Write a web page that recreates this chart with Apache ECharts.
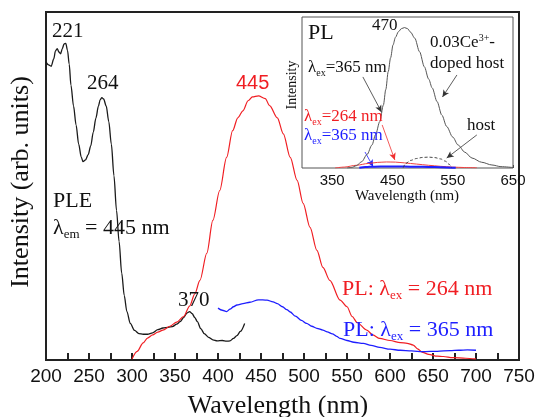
<!DOCTYPE html>
<html><head><meta charset="utf-8">
<script src="https://cdn.jsdelivr.net/npm/echarts@6/dist/echarts.min.js"></script>
<style>html,body{margin:0;padding:0;background:#fff}#c{width:538px;height:417px}</style>
</head><body><div id="c"></div>
<script>
// ---- main panel data (wavelength nm, intensity arb. units 0-100) ----
const pleWavelength = [200,203,206,209,211,213,215,217,219,221,223,225,227,229,232,235,238,241,243,246,249,252,255,258,261,263,265,267,270,273,276,279,282,285,288,291,294,298,303,308,313,318,324,330,336,342,347,352,356,360,364,367,370,373,376,380,384,389,394,399,405,410,414,418,422,426,431];
const pleIntensity  = [85.6,84.8,84.4,86.5,88.8,89.5,88.5,88.0,89.5,90.8,91.0,89,85,79,73,67.5,62,58.3,57.0,57.5,59,61.5,65.5,69.5,73,74.8,75.4,75,73,68.5,62,53,43,34,25,18.5,14,10.5,8.5,7.6,7.4,7.4,7.8,8.7,9.2,9.4,9.6,10.3,11,12.2,13.5,13.9,13.3,12.2,11,9,7.6,6.5,5.8,5.5,5.6,5.4,5.5,6.2,7.0,8.2,10.5];

const pl264Wavelength = [300,306,313,318,324,330,336,344,352,360,367,373,379,387,394,402,410,417,423,429,435,440,447,455,460,469,476,484,492,499,507,515,522,530,542,550,556,562,573,580,588,600,612,620,627,632,638,645,655,662,673,688,700];
const pl264Intensity  = [0.3,2.5,4.9,6.3,7.2,8.0,8.6,9.7,10.9,12.5,15.5,19,22.9,30.7,40.1,48.7,58.2,65.9,69.6,71.6,74.5,75.6,75.9,75.1,73.1,69.6,65.0,58.2,51.6,45.0,38.1,31.5,26.6,22.9,17.2,15.3,12.5,10.7,8.6,7.2,6.2,5.6,5.0,4.8,4.3,3.2,2.2,1.6,1.1,1.0,0.7,0.5,0.3];

const pl365Wavelength = [400,405,410,414,418,422,429,437,447,457,464,469,475,480,484,490,497,503,509,515,522,527,533,538,542,550,558,569,578,588,600,612,625,638,655,670,680,690,700];
const pl365Intensity  = [14.9,14.3,13.9,14.6,15.3,15.8,16.2,16.6,17.3,17.2,16.7,16.2,15.3,14.5,13.8,12.6,11.4,10.5,9.7,9.1,8.6,8.1,7.5,6.8,6.2,5.6,5.1,4.8,4.2,3.6,3.1,2.8,2.6,2.4,2.5,2.7,2.8,2.9,2.8];

// ---- inset data (wavelength nm, intensity 0-100) ----
const insetDopedWavelength = [375,382,390,399,408,416,422,429,435,439,443,447,451,455,460,465,470,475,480,487,495,503,510,516,524,532,540,550,559,570,582,598,615,630,650];
const insetDopedIntensity  = [0,0.3,1.5,4.2,9,15.2,22,30.7,41.7,52,63.8,73,81.5,86.5,90.3,92.3,93,92.3,90,86,77,67,59,53,44,35,27.5,20.5,15.2,10.5,6.6,3.8,2.0,0.9,0.3];
const insetRedWavelength = [355,370,390,410,425,440,455,470,490,510,530,550,570,590];
const insetRedIntensity  = [0,0.6,1.8,3.0,3.7,4.0,3.9,3.4,2.6,1.8,1.1,0.6,0.3,0.1];
const insetBlueWavelength = [395,405,420,440,460,480,500,520,540,555];
const insetBlueIntensity  = [0.2,0.6,0.9,1.0,1.0,0.9,0.8,0.6,0.4,0.2];
const insetHostWavelength = [468,472,480,490,500,510,520,530,538,544,548];
const insetHostIntensity  = [0.3,3,5,6.3,7,7.2,6.9,6,4.5,2.5,0.3];

// ---- tick labels ----
const mainTickLabels = [200,250,300,350,400,450,500,550,600,650,700,750];
const insetTickLabels = [350,450,550,650];

const zip = (a, b) => a.map((v, i) => [v, b[i]]);
const SERIF = "'Liberation Serif','DejaVu Serif',serif";
const SANS = "'Liberation Sans','DejaVu Sans',sans-serif";
const RED = '#f01e23', BLUE = '#1e1eff', BLACK = '#1a1a1a';

function lineSeries(data, color, width, xi, extra) {
  return Object.assign({
    type: 'line', data: data, xAxisIndex: xi, yAxisIndex: xi,
    showSymbol: false, symbol: 'none', smooth: 0.3, smoothMonotone: 'x',
    lineStyle: { color: color, width: width }, animation: false, silent: true,
    emphasis: { disabled: true }, z: 3
  }, extra || {});
}

function txt(x, y, text, rich, opts) {
  return Object.assign({
    type: 'text', x: x, y: y, z: 100, silent: true,
    style: { text: text, rich: rich, align: 'left', textAlign: 'left', verticalAlign: 'middle', textVerticalAlign: 'middle' }
  }, opts || {});
}
function richSet(size, color, family, subSize, lh) {
  return {
    m: { fontSize: size, fontFamily: family || SERIF, fill: color, color: color, lineHeight: lh || Math.round(size * 1.2) },
    s: { fontSize: subSize, fontFamily: family || SERIF, fill: color, color: color, lineHeight: Math.round(size * 0.45), verticalAlign: 'bottom' },
    p: { fontSize: subSize, fontFamily: family || SERIF, fill: color, color: color, lineHeight: Math.round(size * 0.6), verticalAlign: 'top' }
  };
}

const chart = echarts.init(document.getElementById('c'), null, { renderer: 'canvas' });
chart.setOption({
  animation: false,
  backgroundColor: '#fff',
  grid: [
    { left: 46, top: 12, width: 473, height: 348, show: true, borderColor: '#222', borderWidth: 2, backgroundColor: 'transparent', containLabel: false },
    { left: 302, top: 17, width: 211, height: 151, show: true, borderColor: '#555', borderWidth: 1, backgroundColor: '#fff', containLabel: false, z: 4 }
  ],
  xAxis: [
    { type: 'value', gridIndex: 0, min: 200, max: 750, interval: 25,
      axisLine: { show: false }, splitLine: { show: false },
      axisTick: { show: true, inside: true, length: 7, lineStyle: { color: '#222', width: 2 } },
      axisLabel: { show: true, margin: 7, fontSize: 19, fontFamily: SANS, color: '#111', showMinLabel: true, showMaxLabel: true,
        formatter: v => mainTickLabels.includes(v) ? String(v) : '' } },
    { type: 'value', gridIndex: 1, min: 300, max: 650, interval: 50,
      axisLine: { show: false }, splitLine: { show: false },
      axisTick: { show: true, inside: true, length: 3, lineStyle: { color: '#444', width: 1 } },
      axisLabel: { show: true, margin: 5, fontSize: 15, fontFamily: SANS, color: '#111', showMinLabel: true, showMaxLabel: true,
        formatter: v => insetTickLabels.includes(v) ? String(v) : '' } }
  ],
  yAxis: [
    { type: 'value', gridIndex: 0, min: 0, max: 100, show: false },
    { type: 'value', gridIndex: 1, min: 0, max: 100, show: false }
  ],
  series: [
    lineSeries(zip(pleWavelength, pleIntensity), BLACK, 1.3, 0),
    lineSeries(zip(pl264Wavelength, pl264Intensity), RED, 1.2, 0),
    lineSeries(zip(pl365Wavelength, pl365Intensity), BLUE, 1.3, 0),
    lineSeries(zip(insetRedWavelength, insetRedIntensity), '#f04040', 1, 1, { z: 6 }),
    lineSeries(zip(insetBlueWavelength, insetBlueIntensity), '#2020ff', 2, 1, { z: 6 }),
    lineSeries(zip(insetHostWavelength, insetHostIntensity), '#333', 0.9, 1, { z: 6, lineStyle: { color: '#333', width: 0.9, type: [3, 2] } }),
    lineSeries(zip(insetDopedWavelength, insetDopedIntensity), '#555', 1, 1, { z: 6,
      markLine: {
        silent: true, animation: false, symbol: ['none', 'arrow'], symbolSize: [5, 7],
        label: { show: false }, emphasis: { disabled: true },
        lineStyle: { width: 0.8, type: 'solid', color: '#333' },
        data: [
          [{ coord: [401, 60.3], lineStyle: { color: '#333', width: 0.8, type: 'solid' } }, { coord: [432, 37] }],
          [{ coord: [557, 61.6], lineStyle: { color: '#333', width: 0.8, type: 'solid' } }, { coord: [533, 47] }],
          [{ coord: [433, 28.5], lineStyle: { color: '#f03030', width: 0.8, type: 'solid' } }, { coord: [454, 5.3] }],
          [{ coord: [404.5, 10.6], lineStyle: { color: '#2020ff', width: 0.8, type: 'solid' } }, { coord: [418, 0.9] }],
          [{ coord: [590, 21.9], lineStyle: { color: '#333', width: 0.8, type: 'solid' } }, { coord: [540, 6.6] }]
        ]
      } })
  ],
  graphic: [
    // main axis names
    { type: 'text', x: 21, y: 182, rotation: Math.PI / 2, z: 100, silent: true,
      style: { text: 'Intensity (arb. units)', font: '26px ' + SERIF, fill: '#111', align: 'center', textAlign: 'center', verticalAlign: 'middle', textVerticalAlign: 'middle' } },
    { type: 'text', x: 278, y: 406, z: 100, silent: true,
      style: { text: 'Wavelength (nm)', font: '26px ' + SERIF, fill: '#111', align: 'center', textAlign: 'center', verticalAlign: 'middle', textVerticalAlign: 'middle' } },
    // main annotations
    txt(52, 31, '{m|221}', richSet(21, '#111', SERIF, 13)),
    txt(87, 83, '{m|264}', richSet(21, '#111', SERIF, 13)),
    txt(236, 83, '{m|445}', richSet(20, RED, SANS, 13)),
    txt(178, 300, '{m|370}', richSet(21, '#111', SERIF, 13)),
    txt(53, 201, '{m|PLE}', richSet(22, '#111', SERIF, 13)),
    txt(53, 228, '{m|λ}{s|em}{m| = 445 nm}', richSet(22, '#111', SERIF, 13)),
    txt(342, 289, '{m|PL: λ}{s|ex}{m| = 264 nm}', richSet(22, RED, SERIF, 13)),
    txt(343, 330, '{m|PL: λ}{s|ex}{m| = 365 nm}', richSet(22, BLUE, SERIF, 13)),
    // inset annotations
    txt(308, 33, '{m|PL}', richSet(22, '#111', SERIF, 12)),
    txt(372, 26, '{m|470}', richSet(17, '#111', SERIF, 10)),
    txt(308, 68, '{m|λ}{s|ex}{m|=365 nm}', richSet(17, '#111', SERIF, 10)),
    txt(304, 117, '{m|λ}{s|ex}{m|=264 nm}', richSet(17, RED, SERIF, 10)),
    txt(304, 136, '{m|λ}{s|ex}{m|=365 nm}', richSet(17, BLUE, SERIF, 10)),
    txt(430, 43, '{m|0.03Ce}{p|3+}{m|-}', richSet(17, '#111', SERIF, 10)),
    txt(430, 64, '{m|doped host}', richSet(17, '#111', SERIF, 10)),
    txt(467, 126, '{m|host}', richSet(17, '#111', SERIF, 10)),
    { type: 'text', x: 292, y: 85, rotation: Math.PI / 2, z: 100, silent: true,
      style: { text: 'Intensity', font: '14px ' + SERIF, fill: '#111', align: 'center', textAlign: 'center', verticalAlign: 'middle', textVerticalAlign: 'middle' } },
    { type: 'text', x: 407, y: 196, z: 100, silent: true,
      style: { text: 'Wavelength (nm)', font: '15px ' + SERIF, fill: '#111', align: 'center', textAlign: 'center', verticalAlign: 'middle', textVerticalAlign: 'middle' } }
  ]
});
</script>
</body></html>
